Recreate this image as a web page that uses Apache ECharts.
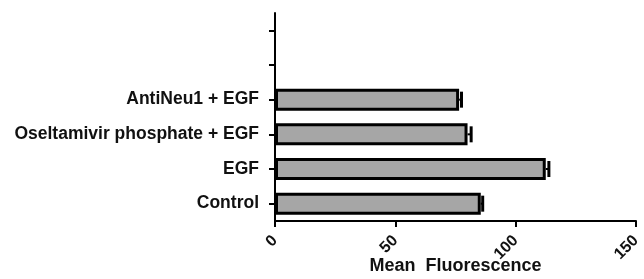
<!DOCTYPE html>
<html>
<head>
<meta charset="utf-8">
<script src="https://cdn.jsdelivr.net/npm/echarts@6/dist/echarts.min.js"></script>
<style>
  html, body { margin: 0; padding: 0; background: #fff; }
  #chart { width: 644px; height: 279px; }
</style>
</head>
<body>
<div id="chart"></div>
<script>
// data
var categories = ['Control', 'EGF', 'Oseltamivir phosphate + EGF', 'AntiNeu1 + EGF', '', ''];
var meanValues = [85.5, 112.5, 80, 76.5, null, null];
var errValues = [0.8, 1.3, 1.5, 1, null, null];
var xTicks = [0, 50, 100, 150];

var chart = echarts.init(document.getElementById('chart'));

var errData = [];
meanValues.forEach(function (v, i) {
    if (v != null) errData.push([i, v, errValues[i]]);
});

var font = 'Liberation Sans, Arial, sans-serif';

chart.setOption({
    animation: false,
    grid: { left: 275, right: 8, top: 13, bottom: 58, containLabel: false, outerBoundsMode: 'none' },
    xAxis: {
        type: 'value',
        min: xTicks[0],
        max: xTicks[xTicks.length - 1],
        interval: 50,
        name: 'Mean  Fluorescence',
        nameLocation: 'middle',
        nameGap: 36,
        nameMoveOverlap: false,
        nameTextStyle: { color: '#111', fontSize: 18, fontWeight: 'bold', fontFamily: font },
        axisLine: { show: true, lineStyle: { color: '#000', width: 2 } },
        axisTick: { show: true, length: 6, lineStyle: { color: '#000', width: 2 } },
        axisLabel: { rotate: 45, margin: 17, color: '#111', fontSize: 16, fontWeight: 'bold', fontFamily: font },
        splitLine: { show: false }
    },
    yAxis: {
        type: 'category',
        data: categories,
        axisLine: { show: true, lineStyle: { color: '#000', width: 2 } },
        axisTick: { show: true, alignWithLabel: true, length: 6, lineStyle: { color: '#000', width: 2 } },
        axisLabel: { margin: 16, color: '#111', fontSize: 17.5, fontWeight: 'bold', fontFamily: font }
    },
    series: [
        {
            type: 'bar',
            data: meanValues,
            barWidth: 22,
            itemStyle: { color: '#a6a6a6', borderColor: '#000', borderWidth: 3 }
        },
        {
            type: 'custom',
            data: errData,
            encode: { x: 1, y: 0 },
            renderItem: function (params, api) {
                var i = api.value(0), m = api.value(1), e = api.value(2);
                var p0 = api.coord([m, i]);
                var p1 = api.coord([m + e, i]);
                var h = 8;
                return {
                    type: 'group',
                    children: [
                        { type: 'line', shape: { x1: p0[0], y1: p0[1], x2: p1[0], y2: p1[1] }, style: { stroke: '#000', lineWidth: 2 } },
                        { type: 'line', shape: { x1: p1[0], y1: p1[1] - h, x2: p1[0], y2: p1[1] + h }, style: { stroke: '#000', lineWidth: 3 } }
                    ]
                };
            },
            z: 3
        }
    ]
});
</script>
</body>
</html>
